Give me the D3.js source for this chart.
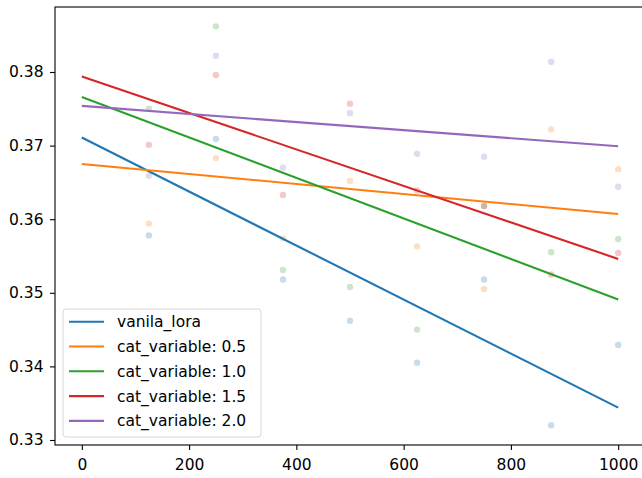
<!DOCTYPE html>
<html>
<head>
<meta charset="utf-8">
<script src="https://cdn.jsdelivr.net/npm/d3@7"></script>
<style>
  body { margin: 0; background: #fff; }
  text { font-family: "DejaVu Sans", sans-serif; }
</style>
</head>
<body>
<script>
// x positions of the scatter points (steps)
var steps = [125, 250, 375, 500, 625, 750, 875, 1000];

var seriesNames = ["vanila_lora", "cat_variable: 0.5", "cat_variable: 1.0", "cat_variable: 1.5", "cat_variable: 2.0"];
var colors = ["#1f77b4", "#ff7f0e", "#2ca02c", "#d62728", "#9467bd"];

// raw points, one array per series
var vanilaPts = [0.3578, 0.3709, 0.3518, 0.3462, 0.3405, 0.3518, 0.3320, 0.3429];
var cat05Pts  = [0.3594, 0.3683, 0.3574, 0.3652, 0.3563, 0.3505, 0.3722, 0.3668];
var cat10Pts  = [0.3750, 0.3862, 0.3531, 0.3508, 0.3450, 0.3618, 0.3555, 0.3573];
var cat15Pts  = [0.3701, 0.3796, 0.3633, 0.3757, 0.3639, 0.3618, 0.3525, 0.3554];
var cat20Pts  = [0.3659, 0.3822, 0.3670, 0.3744, 0.3689, 0.3685, 0.3814, 0.3644];

// fitted trend lines: value at x = 0 and x = 1000
var fitX = [0, 1000];
var vanilaFit = [0.3711, 0.3344];
var cat05Fit  = [0.3675, 0.3607];
var cat10Fit  = [0.3766, 0.3491];
var cat15Fit  = [0.3794, 0.3546];
var cat20Fit  = [0.3754, 0.3699];

var xTicks = [0, 200, 400, 600, 800, 1000];
var yTicks = [0.33, 0.34, 0.35, 0.36, 0.37, 0.38];

var allPts = [vanilaPts, cat05Pts, cat10Pts, cat15Pts, cat20Pts];
var allFits = [vanilaFit, cat05Fit, cat10Fit, cat15Fit, cat20Fit];

var w = 642, h = 478;
var fs = "15.5px";
var svg = d3.select("body").append("svg").attr("width", w).attr("height", h);

var x = d3.scaleLinear().domain([-50, 1050]).range([55, 645]);
var y = d3.scaleLinear().domain([0.32932, 0.38883]).range([445, 7]);

// points
allPts.forEach(function (pts, s) {
  svg.append("g")
    .selectAll("circle")
    .data(pts)
    .enter()
    .append("circle")
    .attr("cx", function (d, i) { return x(steps[i]); })
    .attr("cy", function (d) { return y(d); })
    .attr("r", 3.2)
    .attr("fill", colors[s])
    .attr("opacity", 0.25);
});

// trend lines
var line = d3.line()
  .x(function (d, i) { return x(fitX[i]); })
  .y(function (d) { return y(d); });

allFits.forEach(function (f, s) {
  svg.append("path")
    .attr("d", line(f))
    .attr("fill", "none")
    .attr("stroke", colors[s])
    .attr("stroke-width", 2.1);
});

// axes
var xAxis = d3.axisBottom(x).tickValues(xTicks).tickSize(5).tickPadding(9).tickFormat(d3.format("d"));
var yAxis = d3.axisLeft(y).tickValues(yTicks).tickSize(5).tickPadding(6.5).tickFormat(d3.format(".2f"));

var gx = svg.append("g").attr("transform", "translate(0,445)").call(xAxis);
var gy = svg.append("g").attr("transform", "translate(55,0)").call(yAxis);
[gx, gy].forEach(function (g) {
  g.select(".domain").remove();
  g.selectAll("line").attr("stroke", "#000").attr("stroke-width", 1.1);
  g.selectAll("text").attr("fill", "#000").style("font-size", fs).style("font-family", "DejaVu Sans, sans-serif");
});

// frame
svg.append("rect")
  .attr("x", 55).attr("y", 7)
  .attr("width", 590).attr("height", 438)
  .attr("fill", "none")
  .attr("stroke", "#000")
  .attr("stroke-width", 1.1);

// legend
var lg = svg.append("g").attr("transform", "translate(63,309)");
lg.append("rect")
  .attr("x", 0).attr("y", 0)
  .attr("width", 198).attr("height", 128)
  .attr("rx", 3)
  .attr("fill", "#fff").attr("fill-opacity", 0.8)
  .attr("stroke", "#d6d6d6").attr("stroke-width", 1);

var items = lg.selectAll("g.item")
  .data(seriesNames)
  .enter()
  .append("g")
  .attr("class", "item")
  .attr("transform", function (d, i) { return "translate(0," + (12.7 + i * 24.8) + ")"; });

items.append("line")
  .attr("x1", 6).attr("x2", 41)
  .attr("stroke", function (d, i) { return colors[i]; })
  .attr("stroke-width", 2.1);

items.append("text")
  .attr("x", 54)
  .attr("dy", "0.35em")
  .style("font-size", fs)
  .attr("fill", "#000")
  .text(function (d) { return d; });
</script>
</body>
</html>
